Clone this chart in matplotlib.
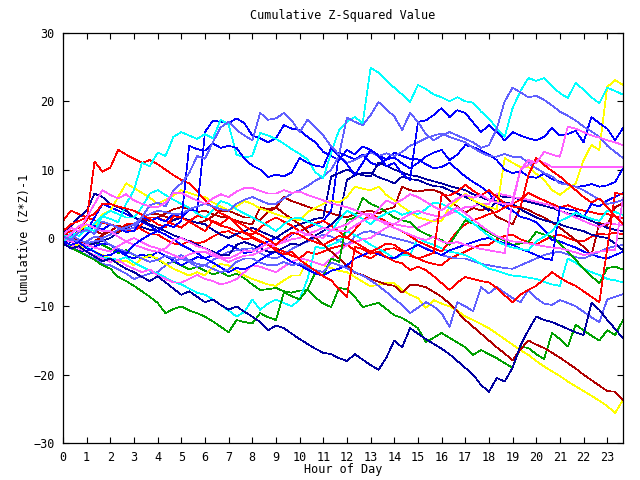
import numpy as np
import matplotlib
matplotlib.use("Agg")
import matplotlib.pyplot as plt

# readings every 20 minutes, 0:00 .. 23:40 (72 values per day)
cyan_a = [-0.6, 0.8, 0.3, 1.5, 1.0, 3.2, 2.8, 2.3, 5.0, 7.0, 11.0, 10.5,
          12.5, 12.0, 14.8, 15.5, 15.0, 14.5, 15.2, 14.6, 17.3, 16.6, 12.2, 11.8,
          12.0, 15.4, 15.0, 14.5, 13.8, 13.0, 12.3, 11.5, 9.6, 8.8, 12.5, 15.8,
          17.0, 17.7, 16.8, 24.9, 24.2, 23.0, 22.0, 21.0, 19.9, 22.4, 21.8, 21.0,
          20.6, 20.0, 20.6, 20.0, 19.8, 18.5, 17.5, 16.0, 14.8, 19.0, 21.5, 23.4,
          23.0, 23.4, 22.2, 21.2, 20.5, 22.7, 21.7, 20.6, 19.7, 22.0, 21.5, 21.0]
lightblue_a = [0.2, -0.3, 0.8, 1.2, 0.6, 2.4, 2.0, 1.5, 1.2, 1.5, 3.0, 4.8,
               5.2, 4.6, 7.0, 8.0, 9.5, 12.0, 11.6, 14.0, 16.2, 17.0, 15.8, 15.0,
               14.3, 18.3, 17.3, 17.5, 18.3, 17.2, 15.5, 17.3, 16.2, 15.0, 13.4, 12.2,
               17.6, 17.0, 16.5, 18.0, 19.9, 18.8, 17.8, 15.8, 18.3, 17.0, 15.2, 14.3,
               15.0, 15.5, 15.0, 14.5, 14.0, 13.2, 13.6, 16.0, 20.0, 22.0, 21.3, 20.6,
               20.8, 20.2, 19.4, 18.5, 17.9, 17.2, 16.3, 15.6, 14.8, 13.5, 12.6, 11.7]
blue_a = [-0.5, -1.0, -0.6, -1.5, -2.0, -2.6, -2.5, -1.8, -2.3, -1.0, -0.2, 0.5,
          1.0, 2.0, 1.6, 2.5, 13.5, 13.0, 12.8, 13.8, 13.2, 13.5, 13.2, 11.6,
          10.6, 10.0, 8.9, 9.3, 9.0, 9.6, 11.7, 11.0, 10.6, 10.4, 13.2, 12.0,
          10.8, 9.2, 11.0, 12.9, 12.0, 10.5, 11.0, 9.4, 8.5, 17.0, 17.2, 18.0,
          19.0, 17.7, 18.7, 18.3, 16.9, 15.5, 16.5, 15.5, 14.3, 15.5, 15.0, 14.6,
          14.3, 14.8, 16.1, 15.0, 15.2, 15.7, 14.0, 17.7, 16.8, 16.0, 14.3, 16.1]
blue_b = [0.3, -0.2, -0.6, 0.5, 1.8, 1.2, 2.0, 1.5, 0.9, 1.0, 3.1, 2.6,
          2.9, 2.4, 3.5, 3.0, 4.1, 4.0, 15.5, 17.2, 17.0, 16.8, 17.5, 16.8,
          15.0, 14.6, 14.0, 14.6, 16.5, 16.0, 15.8, 14.8, 14.0, 12.6, 12.0, 11.4,
          12.9, 12.2, 13.4, 12.9, 12.1, 11.5, 11.8, 10.9, 10.2, 11.0, 11.9, 12.5,
          12.9, 11.4, 12.2, 13.6, 13.3, 12.8, 12.2, 11.4, 10.0, 9.5, 9.8, 9.0,
          8.8, 9.4, 8.6, 8.2, 7.8, 7.5, 7.6, 7.9, 7.5, 7.7, 8.2, 10.2]
magenta_a = [0.4, 1.5, 1.0, 3.0, 5.0, 7.0, 6.3, 5.8, 6.4, 5.5, 5.0, 4.6,
             4.5, 5.2, 6.6, 6.6, 6.0, 5.5, 5.0, 5.8, 6.4, 6.0, 6.8, 7.3,
             7.3, 6.9, 6.5, 6.5, 7.0, 6.6, 6.8, 6.3, 5.9, 5.5, 5.1, 4.8,
             4.5, 4.1, 3.6, 3.0, 4.2, 5.5, 5.0, 5.6, 6.4, 6.0, 5.3, 4.6,
             4.0, 5.0, 5.8, 6.3, 5.9, 6.3, 5.6, 5.2, 5.0, 5.0, 10.0, 11.4,
             11.0, 12.6, 12.2, 11.9, 16.3, 16.0, 15.5, 15.0, 14.7, 14.3, 14.0, 13.6]
magenta_b = [-0.3, 0.6, 1.8, 2.0, 1.5, 1.0, 1.0, 0.2, -0.5, -1.0, -1.4, -1.8,
             -2.0, -1.5, -0.3, 0.0, -0.6, -1.2, -1.5, -2.2, -2.8, -3.0, -2.5, -1.8,
             -2.0, -1.4, -0.8, -1.0, -0.3, 0.6, 1.0, 0.5, 0.2, 0.0, 1.2, 1.6,
             2.0, 2.8, 3.5, 3.5, 2.6, 2.0, 1.5, 1.0, 0.5, 0.0, -0.3, 0.2,
             -0.5, -0.8, -0.6, -1.0, -1.3, -1.6, -1.8, -2.0, -2.2, 5.6, 10.0, 10.7,
             11.4, 11.0, 10.4, 10.4, 10.4, 10.4, 10.4, 10.4, 10.4, 10.4, 10.4, 10.4]
yellow_a = [0.3, -0.2, 1.0, 2.0, 1.6, 3.5, 4.0, 6.0, 8.0, 7.3, 6.6, 5.9,
            5.0, 5.6, 6.2, 7.0, 6.6, 6.2, 6.0, 5.2, 4.6, 4.0, 4.6, 5.4,
            5.0, 4.3, 3.9, 3.5, 3.1, 2.8, 2.6, 3.8, 4.4, 5.0, 5.5, 5.2,
            6.0, 7.5, 7.2, 7.0, 7.5, 6.3, 5.5, 4.6, 3.8, 3.0, 2.7, 2.4,
            2.5, 4.5, 5.5, 6.5, 5.5, 5.0, 4.5, 4.2, 11.7, 11.0, 10.4, 10.4,
            9.4, 8.5, 7.0, 6.3, 7.2, 8.0, 11.4, 13.6, 12.9, 22.1, 23.1, 22.4]
red_b = [1.0, 2.0, 2.5, 3.0, 3.5, 5.0, 5.0, 4.6, 4.3, 4.0, 3.4, 2.8,
         2.0, 1.6, 3.2, 3.0, 2.4, 1.7, 1.0, 2.5, 2.0, 3.0, 2.4, 1.8,
         1.0, 0.5, -0.2, -1.0, 0.0, 0.8, 0.5, -0.2, -0.6, -1.0, -0.4, 0.3,
         0.0, -0.6, -1.3, -2.0, -1.5, -0.8, -1.0, -1.8, -2.4, -3.0, -2.6, -2.2,
         6.3, 6.2, 6.8, 7.8, 6.9, 6.2, 7.0, 6.0, 5.1, 4.6, 4.5, 9.2,
         11.7, 10.7, 9.8, 9.0, 8.0, 7.0, 6.0, 5.2, 5.8, 4.5, 3.2, 2.0]
red_a = [0.5, 1.0, 1.5, 2.6, 11.2, 9.7, 10.3, 12.9, 12.2, 11.6, 11.0, 11.4,
         10.8, 10.0, 9.2, 8.5, 8.0, 6.8, 5.6, 4.5, 3.6, 3.1, 2.0, 0.7,
         0.2, -0.4, -1.0, -1.8, -2.4, -2.0, -3.2, -4.0, -4.8, -5.6, -6.2, -7.5,
         -8.6, -1.3, -1.6, -2.3, -2.0, -2.8, -3.4, -3.7, -4.7, -4.2, -4.7, -5.6,
         -6.6, -7.6, -6.5, -5.7, -6.0, -6.3, -6.5, -7.3, -8.4, -9.4, -8.3, -7.6,
         -7.0, -6.0, -5.0, -5.8, -6.5, -7.0, -7.8, -8.6, -9.4, -1.5, 6.6, 6.4]
darkred_a = [-0.5, 0.3, 1.0, 1.5, 1.0, 0.6, 1.0, 0.8, 1.8, 2.0, 2.8, 2.5,
             3.0, 3.6, 4.2, 4.5, 4.3, 3.8, 4.0, 3.5, 3.1, 3.0, 2.5, 2.2,
             2.0, 4.5, 4.2, 4.5, 3.6, 2.8, 2.0, 1.0, 0.0, -1.0, -2.0, -3.0,
             -4.0, -5.1, -5.4, -6.0, -6.4, -6.8, -7.0, -8.0, -6.9, -6.9, -7.2, -7.9,
             -8.6, -9.6, -10.8, -12.0, -13.0, -14.0, -15.0, -16.0, -16.9, -17.9, -16.3, -15.0,
             -15.6, -16.1, -16.8, -17.5, -18.3, -19.1, -20.0, -20.8, -21.6, -22.4, -22.5, -23.7]
yellow_b = [-0.7, -1.2, -1.0, -1.5, -2.0, -2.5, -3.0, -3.5, -3.3, -4.0, -3.0, -2.6,
            -3.0, -3.8, -4.5, -5.0, -5.5, -5.0, -5.5, -4.2, -3.8, -4.0, -4.8, -5.5,
            -6.0, -6.4, -6.8, -7.0, -6.2, -5.5, -5.5, -3.2, -3.6, -4.0, -4.4, -4.8,
            -5.0, -5.7, -6.4, -7.1, -6.8, -6.6, -6.6, -7.6, -8.3, -8.8, -10.2, -9.1,
            -9.6, -10.0, -10.6, -11.5, -12.0, -12.6, -13.2, -14.0, -14.8, -15.6, -16.4, -17.1,
            -18.0, -18.8, -19.5, -20.2, -21.0, -21.7, -22.4, -23.1, -23.8, -24.6, -25.6, -23.7]
darkblue_a = [-0.8, -1.5, -1.2, -2.0, -2.7, -3.4, -3.0, -3.8, -4.5, -5.0, -5.7, -6.3,
              -5.6, -6.5, -7.4, -8.3, -7.8, -8.6, -9.4, -9.0, -9.8, -10.5, -10.0, -10.8,
              -11.5, -12.3, -13.5, -12.8, -13.2, -14.0, -14.8, -15.5, -16.2, -16.8, -17.0, -17.6,
              -18.0, -17.0, -17.8, -18.6, -19.3, -17.5, -15.0, -16.0, -13.2, -14.0, -14.8, -15.5,
              -16.2, -17.0, -18.0, -19.0, -20.0, -21.5, -22.5, -20.5, -21.0, -19.0, -15.7, -13.5,
              -11.5, -12.0, -12.3, -12.8, -13.3, -13.8, -14.2, -9.5, -10.5, -12.0, -13.3, -14.7]
green_a = [-0.6, -0.2, -0.8, -1.2, -0.5, -1.0, -1.6, -2.2, -1.8, -2.5, -3.0, -2.4,
           -3.2, -3.8, -3.5, -4.0, -4.6, -4.2, -4.8, -5.3, -5.0, -5.6, -5.2, -5.9,
           -6.8, -7.6, -7.5, -7.3, -7.8, -8.0, -7.7, -7.6, -8.7, -9.6, -10.1, -7.3,
           -7.5, -8.6, -10.1, -9.8, -9.5, -10.4, -11.3, -11.7, -12.4, -13.2, -15.2, -14.6,
           -13.9, -14.6, -15.3, -16.0, -17.1, -16.4, -17.0, -17.6, -18.3, -19.0, -15.9, -16.1,
           -17.0, -17.7, -13.9, -14.8, -15.9, -12.7, -13.5, -14.3, -15.0, -13.5, -14.2, -12.0]
green_b = [-0.8, -1.4, -2.0, -2.6, -3.2, -4.0, -4.5, -5.7, -6.3, -7.0, -7.8, -8.6,
           -9.5, -11.0, -10.4, -10.0, -10.6, -11.0, -11.5, -12.2, -13.0, -13.8, -12.0, -12.3,
           -12.5, -11.0, -11.6, -12.0, -8.0, -8.5, -9.0, -7.5, -5.0, -5.5, -3.0, -3.5,
           2.6, 3.0, 5.9, 5.0, 4.5, 3.8, 3.0, 2.6, 2.3, 1.2, 0.6, 0.1,
           -0.3, -1.0, 0.8, 2.6, 2.1, 1.5, 0.8, 0.2, -0.4, -1.0, -0.8, -0.6,
           0.9, 0.5, 0.2, -0.8, -2.0, -3.2, -4.5, -5.6, -6.6, -4.4, -4.2, -4.6]
darkred_b = [0.6, 0.2, -0.4, -1.0, -0.5, 0.4, 1.0, 1.8, 1.4, 2.0, 2.9, 3.5,
             3.5, 3.1, 2.7, 3.0, 2.6, 2.2, 2.5, 3.2, 4.0, 4.0, 3.5, 3.0,
             3.0, 2.6, 3.8, 4.4, 6.0, 5.4, 5.0, 4.6, 4.2, 4.0, 3.6, 3.3,
             3.0, 3.5, 3.8, 4.0, 3.6, 4.2, 4.5, 7.5, 7.0, 6.8, 7.0, 7.0,
             6.6, 5.5, 4.6, 3.7, 4.4, 4.0, 4.5, 3.1, 2.6, 2.0, 4.5, 4.1,
             3.5, 3.0, 2.3, 1.5, 0.6, -0.3, -1.3, -2.5, 2.2, 1.8, 4.5, 5.1]
lightblue_b = [-0.3, 0.4, -0.2, -0.8, -0.5, -0.3, -1.0, -1.6, -2.0, -2.4, -3.0, -3.5,
               -3.2, -2.6, -3.0, -2.5, -3.3, -3.8, -4.0, -4.5, -5.0, -4.6, -3.5, -3.0,
               -3.0, -3.6, -4.0, -4.0, -3.5, -4.0, -3.7, -4.3, -4.7, -5.0, -3.6, -4.0,
               -4.4, -5.0, -5.5, -6.2, -7.0, -7.9, -8.9, -9.8, -11.0, -10.2, -9.4, -10.0,
               -11.0, -13.0, -9.4, -10.0, -10.7, -7.2, -8.1, -7.2, -8.0, -8.8, -9.4, -7.6,
               -8.8, -9.6, -9.8, -9.1, -9.5, -10.0, -10.8, -11.6, -12.3, -9.0, -8.6, -8.2]
blue_c = [-0.7, -1.3, -1.9, -2.0, -1.2, -0.8, -1.0, -1.8, -2.6, -3.0, -2.4, -2.8,
          -2.0, -2.6, -3.3, -4.0, -3.4, -2.8, -3.0, -2.5, -1.8, -1.0, -1.5, -2.2,
          -2.0, -1.0, -0.5, 0.0, -0.4, 0.5, 1.0, 1.5, 2.0, 2.5, 4.0, 12.5,
          12.0, 11.5, 12.2, 11.0, 10.6, 11.5, 12.5, 12.0, 11.6, 11.5, 10.8, 10.2,
          10.4, 11.0, 10.0, 9.0, 8.2, 7.5, 6.6, 5.1, 4.6, 4.0, 3.1, 2.8,
          2.3, 1.2, -0.3, -0.5, -1.0, -1.4, -2.0, -2.4, -2.8, -3.0, -2.5, -2.0]
blue_d = [-0.4, 0.3, 1.0, 1.0, 3.0, 5.0, 4.5, 4.0, 3.5, 3.0, 2.4, 1.8,
          1.0, 0.5, -0.2, -1.0, -1.6, -2.2, -3.0, -3.6, -4.3, -5.0, -4.4, -4.6,
          -4.0, -3.2, -2.5, -2.0, -2.8, -3.5, -4.0, -4.6, -5.2, -5.5, -4.8, -4.5,
          -4.0, -3.0, -2.5, -2.0, -2.4, -2.8, -3.0, -2.2, -1.6, -1.0, -1.6, -2.0,
          -2.5, -1.8, -1.4, -1.0, -0.6, -0.2, 0.0, -0.4, -0.8, -1.0, -1.6, -2.0,
          -2.5, -3.0, -3.2, 4.5, 4.2, 4.0, 3.0, 5.0, 4.6, 5.5, 6.0, 6.6]
darkblue_b = [0.5, 1.8, 3.0, 4.0, 6.5, 6.0, 5.0, 4.5, 4.0, 3.0, 2.6, 2.0,
              1.5, 1.0, 0.4, 0.0, -0.5, -1.0, -1.5, -2.0, -2.5, -2.5, -1.0, -0.6,
              -1.0, -1.5, -2.0, -2.0, -1.4, -0.8, -1.0, -0.4, 0.4, 1.0, 2.0, 3.0,
              8.5, 9.2, 9.5, 9.5, 8.9, 8.5, 8.0, 9.0, 8.6, 8.5, 8.0, 7.6,
              7.5, 7.0, 6.5, 6.0, 5.5, 4.8, 4.0, 5.5, 5.2, 5.0, 4.2, 3.6,
              3.0, 2.6, 2.3, 2.0, 1.6, 1.3, 1.0, 0.5, 0.2, 0.0, -0.8, -1.8]
cyan_b = [-0.8, -1.0, -0.6, -1.4, -2.0, -2.8, -3.0, -3.2, -2.8, -3.6, -4.2, -4.8,
          -5.2, -5.8, -6.4, -6.8, -7.4, -8.0, -8.3, -9.0, -9.8, -10.6, -11.5, -10.8,
          -9.0, -10.5, -9.6, -9.0, -9.5, -10.0, -9.0, -6.0, -1.3, -1.5, -1.0, -0.5,
          1.0, 0.4, -0.2, -1.0, -1.6, -2.2, -3.0, -2.5, -2.5, 0.0, -0.6, -1.0,
          -1.5, -2.0, -2.2, -2.5, -3.1, -3.8, -4.5, -4.8, -5.2, -5.5, -5.6, -5.8,
          -6.0, -6.4, -6.8, -7.0, -3.0, -3.6, -4.5, -5.0, -5.4, -6.0, -6.2, -6.5]
cyan_c = [0.4, 0.0, 0.8, 1.0, 2.2, 3.2, 4.0, 3.5, 3.0, 3.0, 4.5, 6.5,
          7.0, 6.3, 5.6, 5.0, 4.4, 3.6, 3.0, 4.0, 5.4, 5.0, 4.2, 3.6,
          3.0, 2.4, 1.8, 1.0, 2.0, 2.8, 3.0, 2.4, 2.0, 1.5, 1.0, 2.6,
          4.0, 3.4, 2.8, 2.0, 3.0, 3.6, 4.0, 3.4, 3.8, 3.5, 4.2, 5.2,
          5.0, 4.4, 3.8, 3.0, 2.2, 1.2, 0.3, -0.5, -1.0, -1.4, -1.6, -1.8,
          -0.5, 0.2, 1.0, 2.5, 3.0, 3.7, 3.2, 2.8, 2.5, 4.0, 3.8, 3.4]
magenta_c = [-0.7, -1.0, -1.5, -2.0, -2.5, -3.0, -3.5, -3.2, -4.0, -4.5, -5.0, -4.6,
             -5.5, -6.0, -6.5, -6.5, -6.0, -5.4, -6.0, -6.3, -6.8, -6.5, -6.0, -5.0,
             -4.0, -4.2, -4.6, -5.0, -4.2, -3.5, -3.0, -3.2, -3.6, -4.0, -3.0, -2.0,
             -1.0, -0.6, -0.2, 0.0, 0.8, 1.5, 2.0, 1.8, 1.6, 1.5, 2.0, 2.6,
             3.0, 3.5, 4.0, 4.5, 4.6, 5.0, 5.0, 6.5, 6.3, 6.0, 5.8, 5.6,
             5.3, 5.0, 4.8, 4.0, 3.5, 3.0, 2.5, 2.0, 1.6, 2.2, 2.0, 1.9]
magenta_d = [-0.2, -0.5, -0.8, -1.0, -1.4, -1.7, -2.0, -1.2, -0.5, 0.0, -0.6, -1.2,
             -1.5, -2.0, -2.5, -3.0, -2.4, -2.0, -2.0, -2.6, -3.0, -3.5, -3.0, -2.6,
             -2.5, -2.0, -1.5, -1.0, -0.6, -0.2, 0.0, 0.6, 1.0, 1.5, 1.2, 1.0,
             1.0, 1.8, 2.5, 3.0, 2.6, 2.3, 2.0, 2.8, 3.5, 4.0, 3.6, 3.3,
             3.0, 3.8, 4.5, 3.6, 2.7, 1.8, 1.0, 0.3, -0.2, -0.5, -0.6, -0.8,
             -1.0, -1.2, -1.4, -1.5, -1.8, -2.1, -2.5, -2.2, -2.0, -1.8, -1.8, 5.9]
red_c = [2.5, 4.0, 3.5, 3.0, 2.6, 2.2, 2.0, 1.6, 1.2, 1.0, 2.0, 3.0,
         3.0, 2.5, 2.0, 1.5, 2.5, 3.2, 3.0, 2.4, 1.8, 1.5, 1.0, 0.8,
         0.5, 1.5, 2.4, 3.0, 2.4, 1.8, 1.0, 1.6, 2.2, 2.5, 1.8, 1.0,
         0.0, 1.2, 2.6, 3.5, 3.0, 2.4, 1.5, 1.0, 0.3, -0.5, -1.0, -1.5,
         -2.0, -0.5, 1.0, 2.0, 2.6, 3.0, 3.5, 3.8, 4.5, 5.0, 5.6, 6.6,
         6.0, 5.5, 5.0, 4.5, 4.8, 4.3, 4.0, 3.8, 3.5, 3.5, 3.2, 2.9]
red_d = [0.2, -0.4, -1.0, -1.0, -0.5, 0.0, 0.5, 1.2, 2.0, 2.0, 1.2, 0.6,
         0.5, -0.2, -0.8, -1.0, -0.4, -0.8, -0.5, 0.2, 0.8, 1.0, 0.4, -0.2,
         0.0, -0.6, -1.0, -1.5, -2.0, -2.6, -3.0, -2.0, -2.4, -2.0, -1.5, -1.2,
         -1.0, -1.8, -2.5, -3.0, -2.2, -1.6, -1.5, -2.0, -2.6, -3.0, -3.5, -3.8,
         -4.0, -3.0, -2.5, -2.0, -1.4, -1.0, -1.0, -0.2, 0.3, 0.5, -0.2, -0.6,
         -1.0, -0.3, 0.2, 0.5, 0.0, -0.4, -0.5, 0.2, 0.6, 0.5, 0.8, 0.5]
lightblue_c = [-0.8, -1.5, -2.0, -2.5, -3.0, -3.8, -4.0, -4.6, -5.2, -6.0, -5.6, -5.2,
               -5.0, -4.0, -3.4, -3.0, -3.5, -4.2, -4.0, -3.2, -2.6, -2.0, -1.8, -1.6,
               -1.5, -2.2, -2.8, -3.0, -2.4, -1.6, -1.0, -0.5, 0.0, 0.5, 0.2, -0.4,
               -1.0, 0.2, 0.8, 1.0, 0.6, 0.3, 0.0, -0.3, -0.6, -1.0, -1.5, -2.0,
               -2.5, -2.8, -3.0, -3.0, -3.4, -3.8, -4.0, -4.2, -4.4, -4.5, -4.0, -3.5,
               -3.0, -2.5, -2.2, -2.0, -2.4, -2.8, -3.0, -2.5, -2.0, -1.5, -1.2, -1.0]
lightblue_d = [0.3, -0.2, -0.5, -0.5, 0.2, 0.0, 0.5, 1.2, 1.6, 2.0, 3.0, 3.5,
               4.0, 3.8, 3.5, 3.5, 4.2, 4.6, 5.0, 4.6, 4.2, 4.0, 5.0, 5.6,
               6.0, 5.5, 5.0, 5.0, 5.8, 6.5, 7.0, 7.6, 8.4, 9.0, 10.0, 12.0,
               11.0, 11.4, 12.0, 12.5, 12.0, 12.4, 12.0, 12.6, 13.5, 14.0, 14.6, 15.0,
               15.3, 14.8, 14.4, 14.0, 13.2, 12.5, 12.0, 11.9, 12.3, 11.9, 11.9, 11.0,
               10.2, 9.5, 9.0, 8.0, 7.8, 7.5, 7.0, 6.3, 5.6, 5.0, 5.2, 5.6]
darkblue_c = [-0.2, -0.6, -1.0, -1.2, -0.8, -0.4, 0.0, 0.8, 1.5, 2.0, 1.6, 1.2,
              1.0, 1.8, 2.6, 3.0, 2.6, 2.2, 2.0, 1.2, 0.5, 0.0, 0.6, 1.0,
              1.5, 1.0, 0.5, 0.0, 0.8, 1.5, 2.0, 2.4, 2.8, 3.0, 9.0, 9.5,
              10.0, 9.5, 9.2, 9.0, 11.0, 10.6, 10.0, 9.6, 9.2, 9.0, 8.6, 8.3,
              8.0, 7.6, 7.3, 7.0, 6.4, 6.0, 5.5, 6.2, 6.0, 6.0, 5.6, 5.3,
              5.0, 4.7, 4.4, 4.0, 3.6, 3.3, 3.0, 2.5, 2.0, 1.5, 1.2, 1.0]

RED, DARKRED, GREEN = "#ff0000", "#b00000", "#00a000"
BLUE, DARKBLUE, LIGHTBLUE = "#0000ff", "#0000a0", "#6060ff"
YELLOW, CYAN, MAGENTA = "#ffff00", "#00ffff", "#ff60ff"

series = [
    (red_d, RED), (darkred_b, DARKRED), (green_a, GREEN), (blue_c, BLUE),
    (darkblue_c, DARKBLUE), (lightblue_c, LIGHTBLUE), (yellow_b, YELLOW),
    (cyan_b, CYAN), (magenta_c, MAGENTA), (red_c, RED), (darkred_a, DARKRED),
    (green_b, GREEN), (blue_d, BLUE), (darkblue_b, DARKBLUE),
    (lightblue_b, LIGHTBLUE), (yellow_a, YELLOW), (cyan_c, CYAN),
    (magenta_d, MAGENTA), (red_a, RED), (blue_b, BLUE), (darkblue_a, DARKBLUE),
    (lightblue_d, LIGHTBLUE), (cyan_a, CYAN), (magenta_b, MAGENTA),
    (red_b, RED), (blue_a, BLUE), (lightblue_a, LIGHTBLUE), (magenta_a, MAGENTA),
]

hours = np.arange(len(cyan_a)) / 3.0

plt.rcParams['font.family'] = 'DejaVu Sans Mono'
fig = plt.figure(figsize=(6.4, 4.8), dpi=100)
ax = fig.add_axes([63 / 640, 37 / 480, 560 / 640, 410 / 480])

for vals, col in series:
    ax.plot(hours, vals, color=col, lw=0.5, antialiased=False)

ax.set_xlim(0, hours[-1])
ax.set_ylim(-30, 30)
ax.set_xticks(range(24))
ax.set_yticks(range(-30, 31, 10))
ax.tick_params(direction='in', length=4, width=0.8, top=True, right=True,
               labelsize=8.5, pad=6)
for s in ax.spines.values():
    s.set_linewidth(0.9)

fig.text(343 / 640, 1 - 16 / 480, 'Cumulative Z-Squared Value',
         ha='center', va='center', fontsize=8.5)
fig.text(343 / 640, 1 - 470 / 480, 'Hour of Day',
         ha='center', va='center', fontsize=8.5)
fig.text(25 / 640, 1 - 238 / 480, 'Cumulative (Z*Z)-1',
         ha='center', va='center', rotation=90, fontsize=8.5)

fig.savefig('out.png', dpi=100)
